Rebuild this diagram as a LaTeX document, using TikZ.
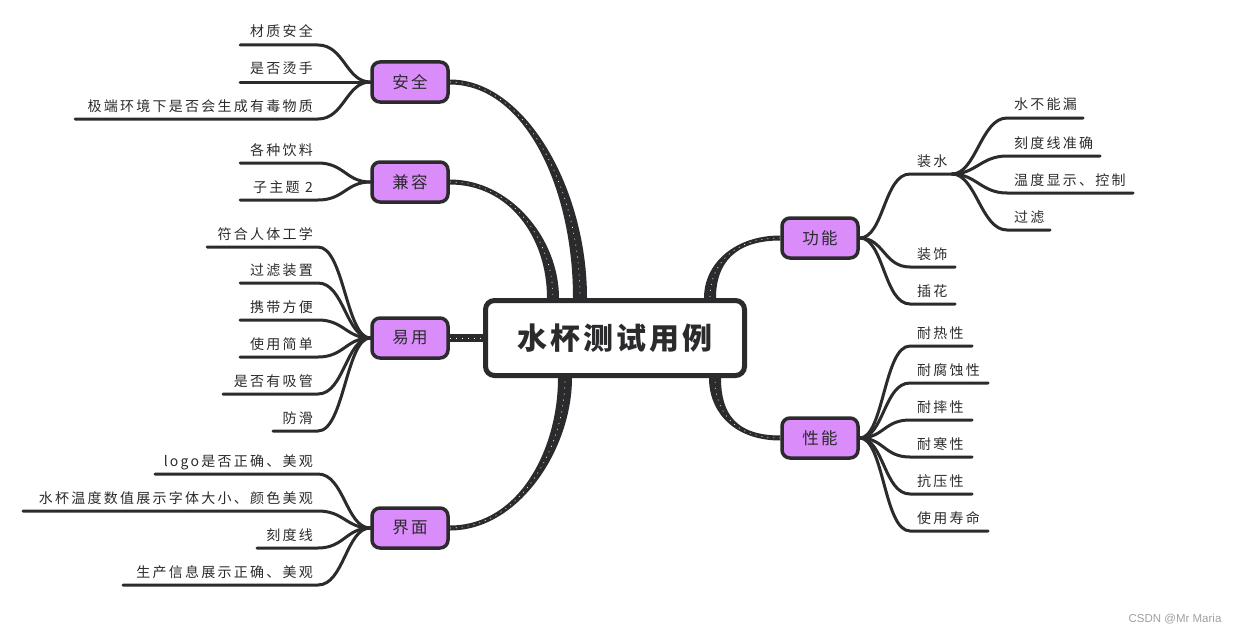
\documentclass[tikz,border=0pt]{standalone}
\usepackage{fontspec}
\setmainfont{Liberation Sans}
\newfontfamily\cjkleaf{Noto Sans CJK SC}[LetterSpace=16]
\newfontfamily\cjkmid{Noto Sans CJK SC}[LetterSpace=15]
\newfontfamily\cjkbig{Noto Sans CJK SC}[LetterSpace=10]
\usetikzlibrary{calc}
\pgfdeclarelayer{bg}
\pgfsetlayers{bg,main}
\definecolor{ink}{RGB}{43,43,45}
\definecolor{lav}{RGB}{218,140,250}
\definecolor{wmgray}{RGB}{160,160,160}
\tikzset{
  leaf/.style={font={\cjkleaf\fontsize{14}{16}\selectfont}, text=ink, inner sep=0pt},
  leafline/.style={draw=ink, line width=3pt, line cap=round},
  topic/.style={draw=ink, fill=lav, line width=3.5pt, rounded corners=8pt, minimum width=76pt, minimum height=40pt, inner sep=0pt, font={\cjkmid\fontsize{16.5}{18}\selectfont}, text=ink},
  root/.style={draw=ink, fill=white, line width=5pt, rounded corners=9pt, minimum width=259pt, minimum height=75pt, inner sep=0pt, font={\cjkbig\bfseries\fontsize{30}{34}\selectfont}, text=ink},
  hatch/.style={white, line width=0.6pt, dash pattern=on 1pt off 5pt}
}
% tapered main connector: start point, end point, ctrl1 dx, ctrl2 dy, half width at start, half width at end
\newcommand\taper[6]{%
  \fill[ink] let \p1=(#1), \p2=(#2) in
    (\x1,{\y1+(#5)}) .. controls ({\x1+(#3)},{\y1+(#5)}) and ({\x2+(#6)},{\y2+(#4)}) .. ({\x2+(#6)},\y2)
    -- ({\x2-(#6)},\y2) .. controls ({\x2-(#6)},{\y2+(#4)}) and ({\x1+(#3)},{\y1-(#5)}) .. (\x1,{\y1-(#5)}) -- cycle;
  \draw[hatch] let \p1=(#1), \p2=(#2) in
    (\x1,\y1) .. controls ({\x1+(#3)},\y1) and (\x2,{\y2+(#4)}) .. (\x2,\y2);
}
% left leaf: name, y, xstart, text, parent point
\newcommand\leafL[5]{%
  \node[leaf, anchor=base east] (#1) at (313,#2-8) {#4};
  \coordinate (#1a) at (#3,#2);
  \coordinate (#1b) at (318,#2);
  \begin{pgfonlayer}{bg}
    \draw[leafline] (#1a) -- (#1b) .. controls +(26,0) and +(-24,0) .. (#5);
  \end{pgfonlayer}}
% right leaf: name, y, xstart, xend, text, parent point
\newcommand\leafR[6]{%
  \node[leaf, anchor=base west] (#1) at (#3+7,#2-8) {#5};
  \coordinate (#1a) at (#3,#2);
  \coordinate (#1b) at (#4,#2);
  \begin{pgfonlayer}{bg}
    \draw[leafline] (#6) .. controls +(24,0) and +(-26,0) .. (#1a) -- (#1b);
  \end{pgfonlayer}}

\begin{document}
\begin{tikzpicture}[x=1pt,y=-1pt]
\useasboundingbox (0,0) rectangle (1242,634);

\node[root] (mid) at (615,338) {水杯测试用例};
\node[topic] (anquan) at (410,82) {安全};
\node[topic] (jianrong) at (410,182) {兼容};
\node[topic] (yiyong) at (410,338) {易用};
\node[topic] (jiemian) at (410,528) {界面};
\node[topic] (gongneng) at (820,238) {功能};
\node[topic] (xingneng) at (820,438) {性能};

\coordinate (eA) at ([xshift=-35pt]mid.north);
\coordinate (eJ) at ([xshift=-62pt]mid.north);
\coordinate (eM) at ([xshift=-50pt]mid.south);
\coordinate (eG) at ([xshift=95pt]mid.north);
\coordinate (eX) at ([xshift=100pt]mid.south);

\begin{pgfonlayer}{bg}
  \taper{anquan.east}{eA}{75pt}{110pt}{2.5pt}{7pt}
  \taper{jianrong.east}{eJ}{60pt}{60pt}{2.5pt}{6pt}
  \taper{jiemian.east}{eM}{70pt}{-70pt}{-2.5pt}{7pt}
  \taper{gongneng.west}{eG}{-45pt}{35pt}{2.5pt}{-6pt}
  \taper{xingneng.west}{eX}{-45pt}{-35pt}{-2.5pt}{-6pt}
  \draw[ink, line width=8pt] (yiyong.east) -- (mid.west);
  \draw[hatch] (yiyong.east) -- (mid.west);
\end{pgfonlayer}

% 安全
\leafL{a1}{45}{240}{材质安全}{anquan.west}
\leafL{a2}{82}{240}{是否烫手}{anquan.west}
\leafL{a3}{119}{75}{极端环境下是否会生成有毒物质}{anquan.west}
% 兼容
\leafL{j1}{163}{240}{各种饮料}{jianrong.west}
\leafL{j2}{200}{240}{子主题 2}{jianrong.west}
% 易用
\leafL{y1}{247}{207}{符合人体工学}{yiyong.west}
\leafL{y2}{283}{240}{过滤装置}{yiyong.west}
\leafL{y3}{320}{240}{携带方便}{yiyong.west}
\leafL{y4}{357}{240}{使用简单}{yiyong.west}
\leafL{y5}{394}{223}{是否有吸管}{yiyong.west}
\leafL{y6}{431}{273}{防滑}{yiyong.west}
% 界面
\leafL{m1}{474}{155}{logo是否正确、美观}{jiemian.west}
\leafL{m2}{511}{23}{水杯温度数值展示字体大小、颜色美观}{jiemian.west}
\leafL{m3}{548}{257}{刻度线}{jiemian.west}
\leafL{m4}{585}{123}{生产信息展示正确、美观}{jiemian.west}
% 功能
\leafR{g1}{174}{910}{952}{装水}{gongneng.east}
\leafR{g2}{267}{910}{955}{装饰}{gongneng.east}
\leafR{g3}{304}{910}{955}{插花}{gongneng.east}
\leafR{s1}{118}{1007}{1083}{水不能漏}{g1b}
\leafR{s2}{156}{1007}{1100}{刻度线准确}{g1b}
\leafR{s3}{193}{1007}{1133}{温度显示、控制}{g1b}
\leafR{s4}{230}{1007}{1050}{过滤}{g1b}
% 性能
\leafR{x1}{346}{910}{972}{耐热性}{xingneng.east}
\leafR{x2}{383}{910}{988}{耐腐蚀性}{xingneng.east}
\leafR{x3}{420}{910}{972}{耐摔性}{xingneng.east}
\leafR{x4}{457}{910}{972}{耐寒性}{xingneng.east}
\leafR{x5}{494}{910}{972}{抗压性}{xingneng.east}
\leafR{x6}{531}{910}{988}{使用寿命}{xingneng.east}

\node[font={\fontsize{11.5}{13}\selectfont}, text=wmgray, inner sep=0pt] (wm) at (1175,619) {CSDN @Mr Maria};
\end{tikzpicture}
\end{document}
